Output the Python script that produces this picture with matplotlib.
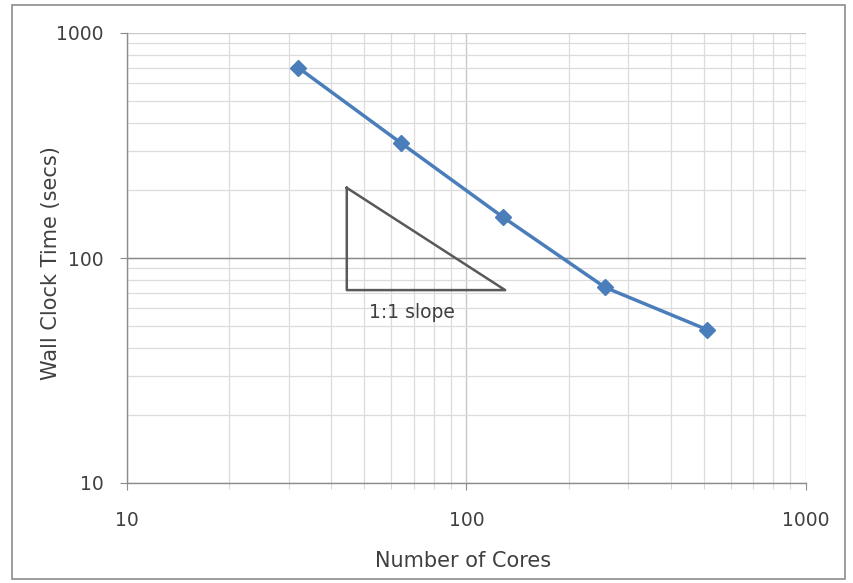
import matplotlib
matplotlib.use("Agg")
import matplotlib.pyplot as plt
from matplotlib.patches import Rectangle
from matplotlib.ticker import FixedLocator, NullFormatter, LogLocator

cores = [32, 64, 128, 256, 512]
wall_time = [700, 325, 152, 74, 48]
tri_x = [44.4, 44.4, 130]
tri_y = [205, 72, 72]
slope_label = "1:1 slope"
x_ticks = [10, 100, 1000]
y_ticks = [10, 100, 1000]

plt.rcParams['font.family'] = ['DejaVu Sans']

fig = plt.figure(figsize=(8.54, 5.83), dpi=100)
ax = fig.add_axes([127/854, 1-483/583, (806-127)/854, (483-33)/583])

ax.set_xscale('log')
ax.set_yscale('log')
ax.set_xlim(10, 1000)
ax.set_ylim(10, 1000)

ax.xaxis.set_major_locator(FixedLocator(x_ticks))
ax.yaxis.set_major_locator(FixedLocator(y_ticks))
ax.set_xticklabels([str(v) for v in x_ticks])
ax.set_yticklabels([str(v) for v in y_ticks])
ax.xaxis.set_minor_locator(LogLocator(base=10, subs=range(2, 10)))
ax.yaxis.set_minor_locator(LogLocator(base=10, subs=range(2, 10)))
ax.xaxis.set_minor_formatter(NullFormatter())
ax.yaxis.set_minor_formatter(NullFormatter())

ax.grid(which='minor', color='#dcdcdc', linewidth=0.9)
ax.grid(which='major', axis='x', color='#c8c8c8', linewidth=1.0)
ax.grid(which='major', axis='y', color='#c8c8c8', linewidth=1.0)
ax.axhline(y_ticks[1], color='#8c8c8c', linewidth=1.0, zorder=1)
ax.set_axisbelow(True)

for s in ['top', 'right']:
    ax.spines[s].set_visible(False)
for s in ['left', 'bottom']:
    ax.spines[s].set_color('#8c8c8c')
    ax.spines[s].set_linewidth(1.0)

ax.tick_params(axis='both', which='major', direction='out', length=5, color='#8c8c8c',
               labelsize=13.5, labelcolor='#404040')
ax.tick_params(axis='y', which='major', pad=12)
ax.tick_params(axis='x', which='major', pad=15)
ax.tick_params(axis='x', which='minor', direction='out', length=4, color='#cfcfcf')
ax.tick_params(axis='y', which='minor', length=0)

ax.plot(tri_x + [tri_x[0]], tri_y + [tri_y[0]], color='#595959', linewidth=1.8, zorder=3)
ax.text((tri_x[0] * tri_x[2]) ** 0.5 * 0.91, tri_y[1] * 0.88, slope_label,
        ha='center', va='top', fontsize=13.5, color='#404040')

ax.plot(cores, wall_time, color='#4a7ebb', linewidth=2.5, marker='D', markersize=8,
        markerfacecolor='#4a7ebb', markeredgecolor='#4a7ebb', zorder=4)

ax.set_xlabel('Number of Cores', fontsize=15, color='#404040', va='top')
ax.set_ylabel('Wall Clock Time (secs)', fontsize=15, color='#404040')
ax.xaxis.set_label_coords(0.495, -0.151)
ax.yaxis.set_label_coords(-0.097, 0.488)

fig.patches.append(Rectangle((12/854, 4/583), 833/854, 574/583, transform=fig.transFigure,
                             fill=False, edgecolor='#8c8c8c', linewidth=1.2))

fig.savefig('out.png', dpi=100)
